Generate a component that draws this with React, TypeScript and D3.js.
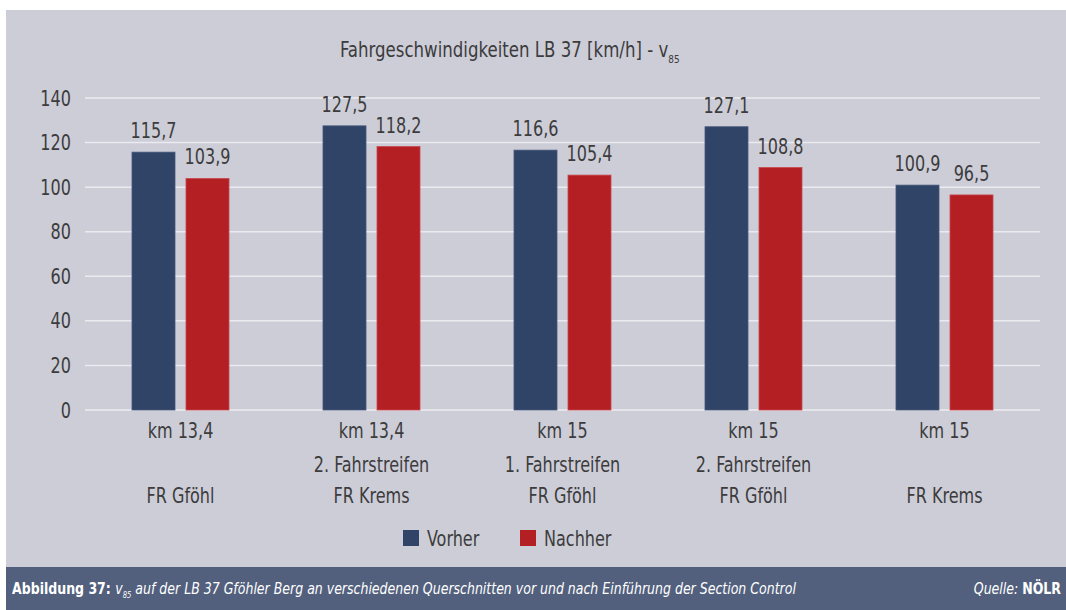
import React from "react";
import * as d3 from "d3";

const categories = [
  ["km 13,4", "", "FR Gföhl"],
  ["km 13,4", "2. Fahrstreifen", "FR Krems"],
  ["km 15", "1. Fahrstreifen", "FR Gföhl"],
  ["km 15", "2. Fahrstreifen", "FR Gföhl"],
  ["km 15", "", "FR Krems"],
];
const vorher = [115.7, 127.5, 116.6, 127.1, 100.9];
const nachher = [103.9, 118.2, 105.4, 108.8, 96.5];
const yTicks = [0, 20, 40, 60, 80, 100, 120, 140];
const seriesNames = ["Vorher", "Nachher"];

const FONT = "'DejaVu Sans Condensed', 'DejaVu Sans', sans-serif";
const BLUE = "#2f4466";
const RED = "#b41f24";
const TXT = "#3c3c3c";

function T({ x, y, sx = 0.85, size = 21, anchor = "start", fill = TXT, children }: any) {
  return (
    <text transform={`translate(${x},${y}) scale(${sx},1)`} textAnchor={anchor} fontSize={size} fill={fill}>
      {children}
    </text>
  );
}

export default function App() {
  const W = 1066, H = 610;
  const left = 85, right = 1040, top = 98, bottom = 410;
  const x = d3.scaleBand<number>().domain(d3.range(categories.length)).range([left, right]).padding(0);
  const y = d3.scaleLinear().domain([0, 140]).range([bottom, top]);
  const barW = 43, gap = 11;
  const fmt = (v: number) => v.toFixed(1).replace(".", ",");
  const series = [vorher, nachher];
  const colors = [BLUE, RED];

  return (
    <svg width={W} height={H} style={{ position: "absolute", left: 0, top: 0 }} fontFamily={FONT}>
      <rect x={6} y={10} width={W - 6} height={557} fill="#cdcdd8" />
      <rect x={6} y={567} width={W - 6} height={H - 567} fill="#52607d" />
      <T x={340} y={57} size={20.5} sx={0.9}>
        Fahrgeschwindigkeiten LB 37 [km/h] - v
        <tspan fontSize={11} dy={6}>85</tspan>
      </T>
      {yTicks.map((t) => (
        <g key={t}>
          <line x1={left} x2={right} y1={y(t)} y2={y(t)} stroke="#ebebef" strokeWidth={1.5} />
          <T x={71} y={y(t) + 7.5} anchor="end">{t}</T>
        </g>
      ))}
      {categories.map((c, i) => {
        const cx = (x(i) as number) + x.bandwidth() / 2;
        const start = cx - barW - gap / 2;
        return (
          <g key={i}>
            {series.map((s, k) => {
              const bx = start + k * (barW + gap);
              return (
                <g key={k}>
                  <rect x={bx} y={y(s[i])} width={barW} height={bottom - y(s[i])} fill={colors[k]}
                    stroke={k === 0 ? "#46587a" : "#c8484c"} strokeWidth={0.8} />
                  <T x={bx + barW / 2} y={y(s[i]) - 14} anchor="middle">{fmt(s[i])}</T>
                </g>
              );
            })}
            {c.map((line, j) => (
              <T key={j} x={cx} y={[438, 472, 503][j]} anchor="middle">{line}</T>
            ))}
          </g>
        );
      })}
      {seriesNames.map((n, k) => {
        const lx = [403, 520][k];
        return (
          <g key={n}>
            <rect x={lx} y={530} width={16} height={16} fill={colors[k]} />
            <T x={lx + 24} y={546}>{n}</T>
          </g>
        );
      })}
      <T x={12} y={594} size={16.5} sx={0.845} fill="#ffffff">
        <tspan fontWeight="bold">Abbildung 37: </tspan>
        <tspan fontStyle="italic">v</tspan>
        <tspan fontStyle="italic" fontSize={9} dy={4}>85</tspan>
        <tspan fontStyle="italic" dy={-4}> auf der LB 37 Gföhler Berg an verschiedenen Querschnitten vor und nach Einführung der Section Control</tspan>
      </T>
      <T x={1061} y={594} size={16.5} sx={0.845} fill="#ffffff" anchor="end">
        <tspan fontStyle="italic">Quelle: </tspan>
        <tspan fontWeight="bold">NÖLR</tspan>
      </T>
    </svg>
  );
}
